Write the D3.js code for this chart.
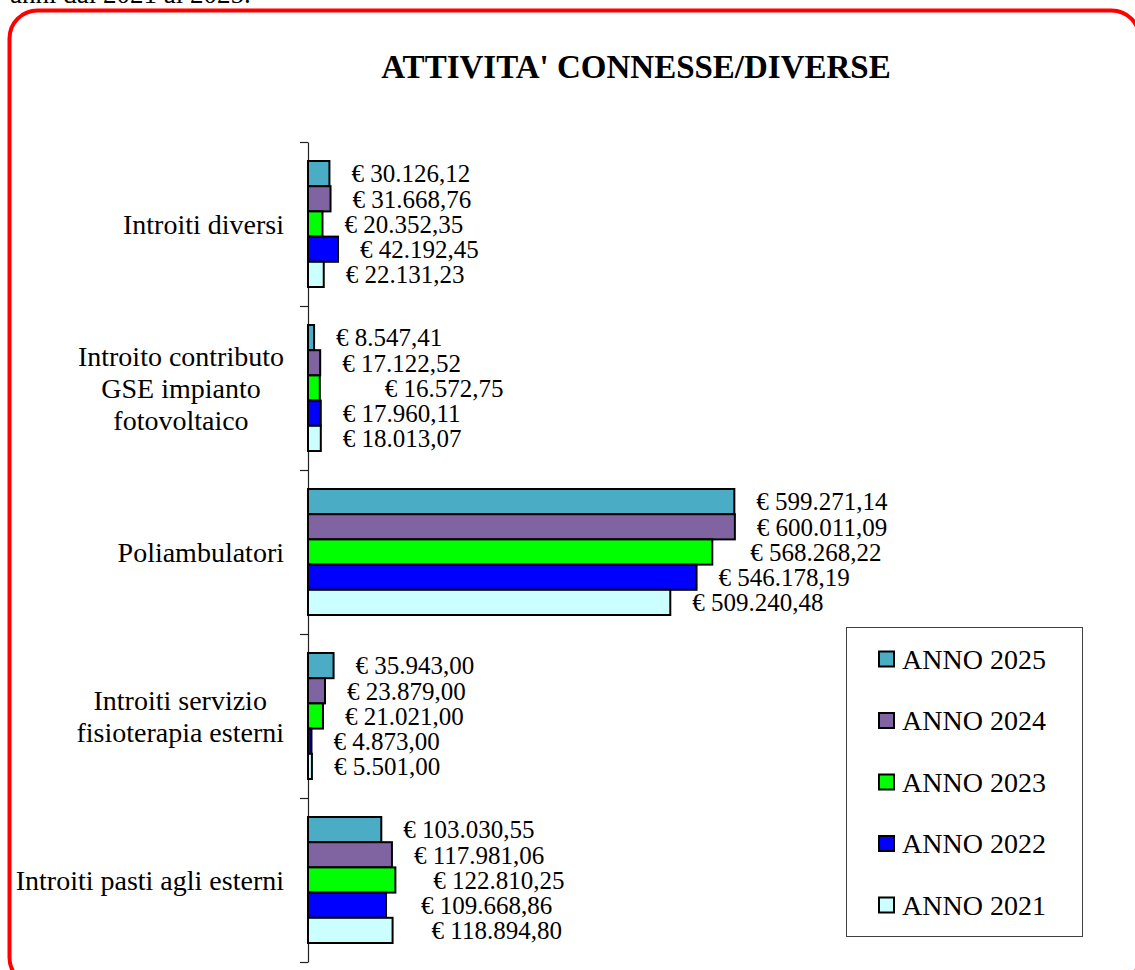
<!DOCTYPE html>
<html>
<head>
<meta charset="utf-8">
<script src="https://cdn.jsdelivr.net/npm/d3@7"></script>
<style>
  body { margin: 0; background: #fff; }
</style>
</head>
<body>
<svg id="bar" width="1135" height="970" font-family="'Liberation Serif', 'DejaVu Serif', serif"></svg>
<script>
// data
var categories = [
  "Introiti diversi",
  "Introito contributo\nGSE impianto\nfotovoltaico",
  "Poliambulatori",
  "Introiti servizio\nfisioterapia esterni",
  "Introiti pasti agli esterni"
];
var years = ["ANNO 2025", "ANNO 2024", "ANNO 2023", "ANNO 2022", "ANNO 2021"];
var values2025 = [30126.12, 8547.41, 599271.14, 35943.00, 103030.55];
var values2024 = [31668.76, 17122.52, 600011.09, 23879.00, 117981.06];
var values2023 = [20352.35, 16572.75, 568268.22, 21021.00, 122810.25];
var values2022 = [42192.45, 17960.11, 546178.19, 4873.00, 109668.86];
var values2021 = [22131.23, 18013.07, 509240.48, 5501.00, 118894.80];
var seriesValues = [values2025, values2024, values2023, values2022, values2021];

var colors = ["#4BACC6", "#8064A2", "#00FF00", "#0000FF", "#CCFFFF"];
// a few labels were moved by hand in the original
var labelNudge = { "1-2": 43, "2-2": 16, "4-2": 16, "4-3": 13, "4-4": 17 };

var fontSerif = "'Liberation Serif', 'DejaVu Serif', serif";

var itFormat = d3.formatLocale({
  decimal: ",", thousands: ".", grouping: [3], currency: ["€ ", ""]
}).format("$,.2f");

function BarChart(){
  var svg = d3.select("#bar");

  // text cut off at the top of the page
  svg.append("text")
    .attr("x", 10).attr("y", 3)
    .attr("font-family", fontSerif)
    .style("font-size", "27px")
    .text("anni dal 2021 al 2025.");

  // red rounded frame
  svg.append("rect")
    .attr("x", 9.5).attr("y", 10.5)
    .attr("width", 1130).attr("height", 975)
    .attr("rx", 28).attr("ry", 28)
    .attr("fill", "none")
    .attr("stroke", "#FF0000")
    .attr("stroke-width", 4);

  svg.append("text")
    .attr("x", 636).attr("y", 78)
    .attr("text-anchor", "middle")
    .attr("font-family", fontSerif)
    .style("font-size", "33px")
    .style("font-weight", "bold")
    .text("ATTIVITA' CONNESSE/DIVERSE");

  var top = 142, bottom = 962, left = 308;

  var y0 = d3.scaleBand().domain(categories).range([top, bottom]);
  var y1 = d3.scaleBand().domain(years).range([0, 126]);
  var groupOffset = (y0.bandwidth() - 126) / 2;
  var x = d3.scaleLinear().domain([0, 700000]).range([left, left + 498]);

  // axis with ticks between categories
  var tickScale = d3.scaleLinear().domain([0, categories.length]).range([top, bottom]);
  svg.append("g")
    .attr("class", "y axis")
    .attr("transform", "translate(" + left + ",0)")
    .call(d3.axisLeft(tickScale).ticks(categories.length).tickFormat("")
      .tickSizeInner(8).tickSizeOuter(0))
    .call(function(g) {
      g.selectAll("path, line").attr("stroke", "#222").attr("stroke-width", 1.2);
    });

  // category labels, centred lines, right edge at 284
  categories.forEach(function(cat) {
    var lines = cat.split("\n");
    var lh = 32;
    var cy = y0(cat) + y0.bandwidth() / 2;
    var t = svg.append("text")
      .attr("font-family", fontSerif)
      .style("font-size", "28px")
      .attr("text-anchor", "middle");
    lines.forEach(function(l, i) {
      t.append("tspan")
        .attr("y", cy + (i - (lines.length - 1) / 2) * lh)
        .attr("dy", "0.35em")
        .text(l);
    });
    var maxW = 0;
    t.selectAll("tspan").each(function() {
      maxW = Math.max(maxW, this.getComputedTextLength());
    });
    t.selectAll("tspan").attr("x", 284 - maxW / 2);
  });

  var rows = [];
  categories.forEach(function(cat, ci) {
    years.forEach(function(yr, si) {
      rows.push({ cat: cat, ci: ci, year: yr, si: si, value: seriesValues[si][ci] });
    });
  });

  svg.selectAll(".bar")
    .data(rows)
    .enter().append("rect")
    .attr("class", "bar")
    .attr("x", x(0))
    .attr("y", function(d) { return y0(d.cat) + groupOffset + y1(d.year); })
    .attr("width", function(d) { return x(d.value) - x(0); })
    .attr("height", y1.bandwidth())
    .attr("fill", function(d) { return colors[d.si]; })
    .attr("stroke", "#000")
    .attr("stroke-width", 2);

  svg.selectAll(".val")
    .data(rows)
    .enter().append("text")
    .attr("class", "val")
    .attr("font-family", fontSerif)
    .attr("x", function(d) { return x(d.value) + 22 + (labelNudge[d.ci + "-" + d.si] || 0); })
    .attr("y", function(d) { return y0(d.cat) + groupOffset + y1(d.year) + y1.bandwidth() / 2; })
    .attr("dy", "0.35em")
    .style("font-size", "25px")
    .text(function(d) { return itFormat(d.value); });

  // legend
  var lg = svg.append("g").attr("transform", "translate(846,627)");
  lg.append("rect")
    .attr("x", 0.5).attr("y", 0.5)
    .attr("width", 236).attr("height", 309)
    .attr("fill", "#fff")
    .attr("stroke", "#404040")
    .attr("stroke-width", 1);
  var item = lg.selectAll(".leg")
    .data(years)
    .enter().append("g")
    .attr("class", "leg")
    .attr("transform", function(d, i) { return "translate(0," + (32 + i * 61.5) + ")"; });
  item.append("rect")
    .attr("x", 33).attr("y", -7.5)
    .attr("width", 15).attr("height", 15)
    .attr("fill", function(d, i) { return colors[i]; })
    .attr("stroke", "#000")
    .attr("stroke-width", 2);
  item.append("text")
    .attr("x", 56).attr("dy", "0.35em")
    .attr("font-family", fontSerif)
    .style("font-size", "28px")
    .text(function(d) { return d; });
}
BarChart();
</script>
</body>
</html>
